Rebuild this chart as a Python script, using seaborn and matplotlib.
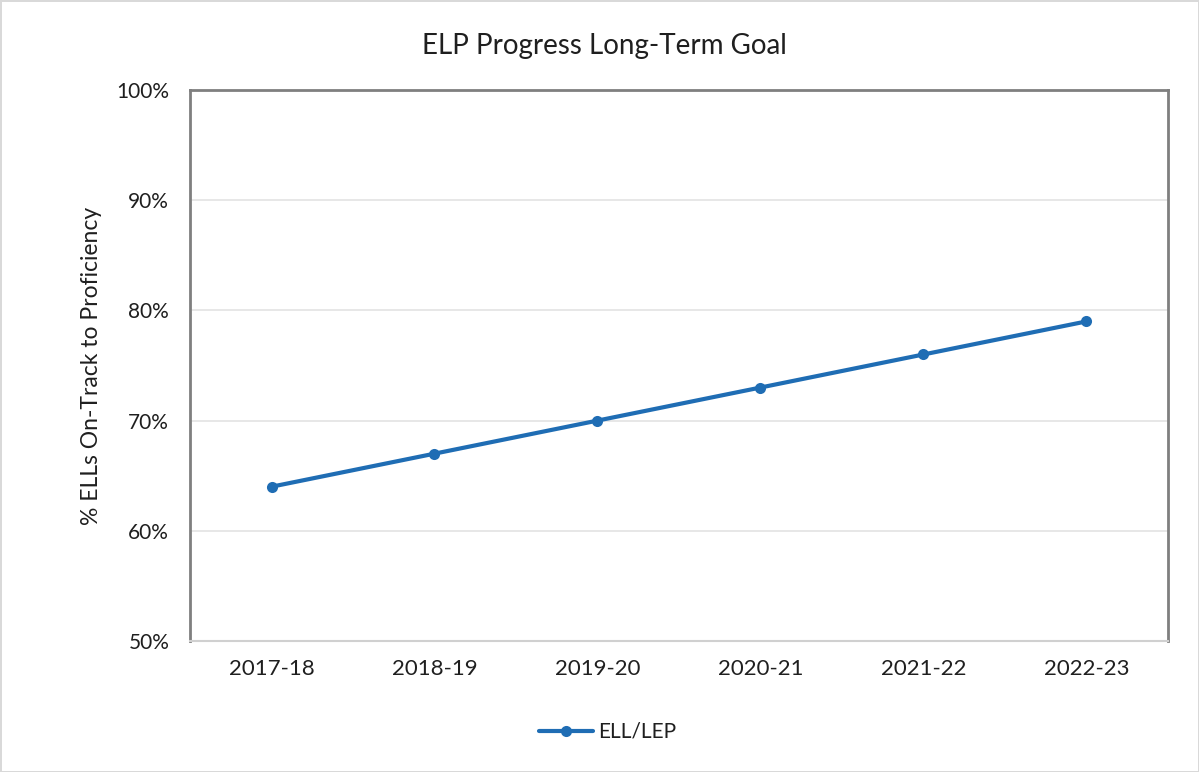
import pandas as pd
import numpy as np
import matplotlib.pyplot as plt
import seaborn as sns
from matplotlib.ticker import PercentFormatter

years = ['2017-18', '2018-19', '2019-20', '2020-21', '2021-22', '2022-23']
ell_lep = [64, 67, 70, 73, 76, 79]
series_name = 'ELL/LEP'

df = pd.DataFrame({'year': years, 'pct': ell_lep, 'group': series_name})

sns.set_theme(style='white')
plt.rcParams['font.family'] = ['Lato', 'DejaVu Sans']

fig = plt.figure(figsize=(11.99, 7.72), dpi=100)
fig.patch.set_edgecolor('#d9d9d9')
fig.patch.set_linewidth(2)
ax = fig.add_axes([0.1585, 0.1697, 0.8155, 0.7137])

blue = '#1f6db4'
sns.lineplot(data=df, x='year', y='pct', hue='group', palette=[blue],
             marker='o', markersize=8, markeredgewidth=0, linewidth=3, ax=ax)

ax.set_xlim(-0.5, len(years) - 0.5)
ax.set_ylim(50, 100)
ax.set_yticks(np.arange(50, 101, 10))
ax.yaxis.set_major_formatter(PercentFormatter(decimals=0))
ax.grid(axis='y', color='#e3e3e3', linewidth=1.2)
ax.set_axisbelow(True)

for s in ['left', 'top', 'right']:
    ax.spines[s].set_color('#7f7f7f')
    ax.spines[s].set_linewidth(2)
ax.spines['bottom'].set_color('#d0d0d0')
ax.spines['bottom'].set_linewidth(1.5)

ax.tick_params(axis='x', labelsize=16, colors='#1f1f1f', pad=13, length=0)
ax.tick_params(axis='y', labelsize=15, colors='#1f1f1f', pad=15, length=0)
ax.set_xlabel('')
ax.set_ylabel('% ELLs On-Track to Proficiency', fontsize=16.5, color='#1f1f1f', labelpad=10)
fig.text(0.504, 0.94, 'ELP Progress Long-Term Goal', ha='center', va='center',
         fontsize=20, color='#1f1f1f')

ax.legend(loc='center', bbox_to_anchor=(0.427, -0.165), frameon=False,
          fontsize=15, handlelength=2.6, handletextpad=0.2)
for t in ax.get_legend().get_texts():
    t.set_color('#1f1f1f')

fig.savefig('out.png', dpi=100, edgecolor=fig.get_edgecolor())
